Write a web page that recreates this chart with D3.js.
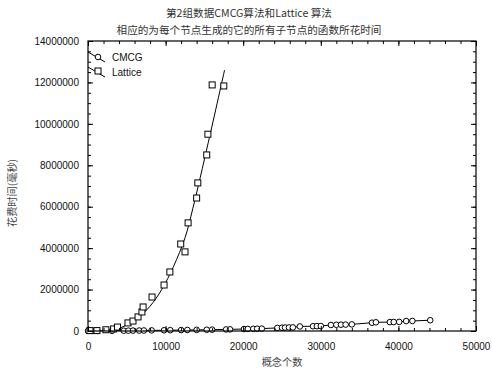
<!DOCTYPE html>
<html>
<head>
<meta charset="utf-8">
<script src="https://cdn.jsdelivr.net/npm/d3@7"></script>
<style>
  body { margin: 0; background: #fff; }
  svg { display: block; }
</style>
</head>
<body>
<div id="chart"></div>
<script>
// Data
const titleLines = ['第2组数据CMCG算法和Lattice 算法', '相应的为每个节点生成的它的所有子节点的函数所花时间'];
const xLabel = '概念个数';
const yLabel = '花费时间(毫秒)';
const seriesNames = ['CMCG', 'Lattice'];

const cmcgX = [0, 500, 1200, 3100, 4600, 5200, 5800, 6600, 7200, 8200, 9800, 10600, 12000, 12800, 14000,
  15300, 16000, 17800, 18300, 20100, 20600, 21300, 21800, 22400, 24400, 25000, 25400, 25900, 26400, 27300,
  29000, 29500, 30000, 31300, 32000, 32600, 33200, 34000, 36600, 37100, 38900, 39400, 40100, 41000, 41800, 44100];
const cmcgY = [2000, 3000, 5000, 10000, 15000, 17000, 20000, 22000, 25000, 30000, 35000, 40000, 45000, 50000, 55000,
  60000, 65000, 75000, 80000, 95000, 100000, 105000, 110000, 115000, 150000, 160000, 165000, 170000, 175000, 220000,
  230000, 235000, 240000, 290000, 300000, 305000, 310000, 320000, 400000, 420000, 430000, 435000, 440000, 480000, 485000, 520000];

const latX = [250, 1150, 2300, 3300, 3800, 5150, 5800, 6450, 6950, 7100, 8250, 9800, 10550, 11950, 12500,
  12900, 14000, 14150, 15300, 15450, 16000, 17500];
const latY = [20000, 20000, 60000, 100000, 190000, 390000, 480000, 680000, 920000, 1160000, 1640000, 2220000,
  2850000, 4200000, 3820000, 5220000, 6420000, 7150000, 8500000, 9500000, 11880000, 11830000];

// fitted curve of the Lattice series
const fitX = [3300, 5000, 6500, 8000, 9500, 11000, 12500, 13500, 15500, 17600];
const fitY = [0, 300000, 650000, 1200000, 2000000, 3100000, 4500000, 5900000, 9100000, 12600000];

const xTicks = [0, 10000, 20000, 30000, 40000, 50000];
const yTicks = [0, 2000000, 4000000, 6000000, 8000000, 10000000, 12000000, 14000000];

const width = 492, height = 369;
const margin = { top: 41, left: 88, right: 16, bottom: 38 };

const svg = d3.select('#chart').append('svg')
  .attr('width', width)
  .attr('height', height);

const xScale = d3.scaleLinear().domain([0, 50000]).range([margin.left, width - margin.right]);
const yScale = d3.scaleLinear().domain([0, 14000000]).range([height - margin.bottom, margin.top]);

const plot = svg.append('g');

// Clip for marks
svg.append('clipPath').attr('id', 'clip')
  .append('rect')
  .attr('x', margin.left).attr('y', margin.top)
  .attr('width', xScale.range()[1] - margin.left)
  .attr('height', yScale.range()[0] - margin.top);

// Axes: inward ticks on all four sides
const fmt = d3.format('d');
const xMinor = d3.range(0, 50001, 2000);
const yMinor = d3.range(0, 14000001, 500000);

const axisStyle = (g) => {
  g.select('.domain').remove();
  g.selectAll('line').attr('stroke', '#000');
  g.selectAll('text')
    .attr('font-family', 'Liberation Sans, Arial, sans-serif')
    .attr('font-size', 10)
    .attr('fill', '#111');
};

const bottomY = yScale(0), topY = yScale(14000000);
const leftX = xScale(0), rightX = xScale(50000);

svg.append('g').attr('transform', `translate(0,${bottomY})`)
  .call(d3.axisBottom(xScale).tickValues(xMinor).tickSize(-3).tickFormat(''))
  .call(axisStyle);
svg.append('g').attr('transform', `translate(0,${bottomY})`)
  .call(d3.axisBottom(xScale).tickValues(xTicks).tickSize(-5).tickPadding(12).tickFormat(fmt))
  .call(axisStyle);
svg.append('g').attr('transform', `translate(0,${topY})`)
  .call(d3.axisTop(xScale).tickValues(xMinor).tickSize(-3).tickFormat(''))
  .call(axisStyle);
svg.append('g').attr('transform', `translate(0,${topY})`)
  .call(d3.axisTop(xScale).tickValues(xTicks).tickSize(-5).tickFormat(''))
  .call(axisStyle);

svg.append('g').attr('transform', `translate(${leftX},0)`)
  .call(d3.axisLeft(yScale).tickValues(yMinor).tickSize(-3).tickFormat(''))
  .call(axisStyle);
svg.append('g').attr('transform', `translate(${leftX},0)`)
  .call(d3.axisLeft(yScale).tickValues(yTicks).tickSize(-5).tickPadding(9).tickFormat(fmt))
  .call(axisStyle);
svg.append('g').attr('transform', `translate(${rightX},0)`)
  .call(d3.axisRight(yScale).tickValues(yMinor).tickSize(-3).tickFormat(''))
  .call(axisStyle);
svg.append('g').attr('transform', `translate(${rightX},0)`)
  .call(d3.axisRight(yScale).tickValues(yTicks).tickSize(-5).tickFormat(''))
  .call(axisStyle);

// Frame
svg.append('rect')
  .attr('x', leftX).attr('y', topY)
  .attr('width', rightX - leftX).attr('height', bottomY - topY)
  .attr('fill', 'none').attr('stroke', '#000').attr('stroke-width', 1.2);

// Lines
const cmcg = cmcgX.map((x, i) => ({ x, y: cmcgY[i] }));
const lattice = latX.map((x, i) => ({ x, y: latY[i] }));
const fit = fitX.map((x, i) => ({ x, y: fitY[i] }));

const line = d3.line().x((d) => xScale(d.x)).y((d) => yScale(d.y));

plot.append('path')
  .datum(cmcg)
  .attr('clip-path', 'url(#clip)')
  .attr('d', line)
  .attr('fill', 'none').attr('stroke', '#000').attr('stroke-width', 1);

plot.append('path')
  .datum(fit)
  .attr('clip-path', 'url(#clip)')
  .attr('d', line.curve(d3.curveCatmullRom))
  .attr('fill', 'none').attr('stroke', '#000').attr('stroke-width', 1);

// Markers
plot.selectAll('circle.cmcg')
  .data(cmcg)
  .join('circle')
  .attr('class', 'cmcg')
  .attr('cx', (d) => xScale(d.x))
  .attr('cy', (d) => yScale(d.y))
  .attr('r', 2.8)
  .attr('fill', '#fff').attr('stroke', '#000').attr('stroke-width', 1);

plot.selectAll('rect.lat')
  .data(lattice)
  .join('rect')
  .attr('class', 'lat')
  .attr('x', (d) => xScale(d.x) - 3)
  .attr('y', (d) => yScale(d.y) - 3)
  .attr('width', 6).attr('height', 6)
  .attr('fill', '#fff').attr('stroke', '#000').attr('stroke-width', 1);

// Legend
const legend = svg.append('g');
seriesNames.forEach((name, i) => {
  const y0 = 52 + i * 15;
  legend.append('line')
    .attr('x1', leftX).attr('y1', y0)
    .attr('x2', leftX + 17).attr('y2', y0 + 10)
    .attr('stroke', '#000');
  if (i === 0) {
    legend.append('circle').attr('cx', leftX + 10).attr('cy', y0 + 5).attr('r', 2.8)
      .attr('fill', '#fff').attr('stroke', '#000');
  } else {
    legend.append('rect').attr('x', leftX + 7).attr('y', y0 + 1).attr('width', 6).attr('height', 6)
      .attr('fill', '#fff').attr('stroke', '#000');
  }
  legend.append('text')
    .attr('x', leftX + 24).attr('y', y0 + 9)
    .attr('font-family', 'Liberation Sans, Arial, sans-serif')
    .attr('font-size', 10)
    .attr('fill', '#111')
    .text(name);
});

// Titles
const cjk = '"Noto Sans CJK SC", sans-serif';
svg.selectAll('text.title')
  .data(titleLines)
  .join('text')
  .attr('class', 'title')
  .attr('x', 249)
  .attr('y', (d, i) => 17 + i * 17)
  .attr('text-anchor', 'middle')
  .attr('font-family', cjk)
  .attr('font-size', 10.6)
  .attr('fill', '#333')
  .text((d) => d);

svg.append('text')
  .attr('x', (leftX + rightX) / 2)
  .attr('y', 366)
  .attr('text-anchor', 'middle')
  .attr('font-family', cjk)
  .attr('font-size', 10.2)
  .attr('fill', '#444')
  .text(xLabel);

svg.append('text')
  .attr('transform', `translate(16,${(topY + bottomY) / 2 + 7}) rotate(-90)`)
  .attr('text-anchor', 'middle')
  .attr('font-family', cjk)
  .attr('font-size', 10.2)
  .attr('fill', '#444')
  .text(yLabel);
</script>
</body>
</html>
